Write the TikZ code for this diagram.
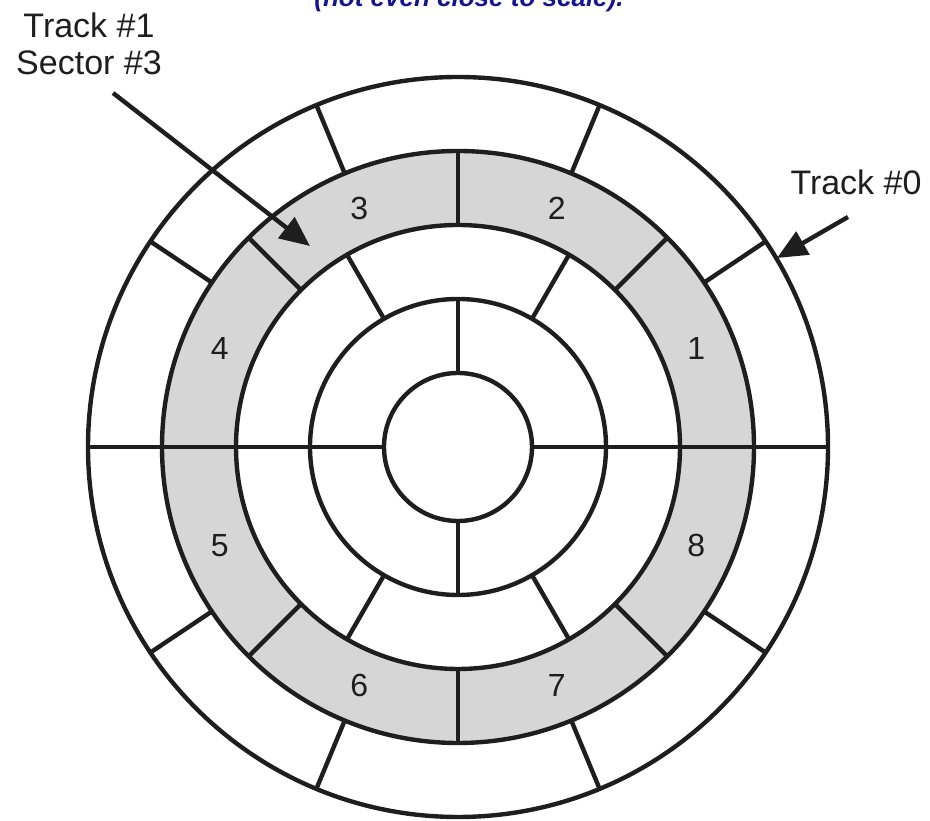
\documentclass[tikz,border=0pt]{standalone}
\usepackage{fontspec}
\setmainfont{Liberation Sans}
\usetikzlibrary{arrows.meta}
\definecolor{trackgray}{RGB}{214,214,214}
\definecolor{notecol}{RGB}{20,20,140}
\definecolor{inkcol}{RGB}{30,30,30}
\begin{document}
\begin{tikzpicture}[x=1pt,y=1pt,
  ring/.style={line width=4.4pt, inkcol},
  num/.style={inner sep=0pt, text=inkcol, font=\fontsize{32}{36}\selectfont},
  lbl/.style={inner sep=0pt, anchor=base, text=inkcol, font=\fontsize{34}{40}\selectfont},
  arr/.style={line width=4.4pt, inkcol, -{Triangle[length=30pt,width=26pt]}}]
\useasboundingbox (0,0) rectangle (930,821);
\clip (0,0) rectangle (930,821);
\coordinate (c) at (458,374);
% shaded track #1
\fill[trackgray, even odd rule] (c) circle (296) (c) circle (222);
% track circles
\foreach \r in {74,148,222,296,370} \draw[ring] (c) circle (\r);
% sector boundaries
\foreach \a in {0,180} \draw[ring] ([shift={(\a:74)}]c) -- ([shift={(\a:370)}]c);
\foreach \a in {90,270} \draw[ring] ([shift={(\a:74)}]c) -- ([shift={(\a:148)}]c);
\foreach \a in {60,120,240,300} \draw[ring] ([shift={(\a:148)}]c) -- ([shift={(\a:222)}]c);
\foreach \a in {45,90,135,225,270,315} \draw[ring] ([shift={(\a:222)}]c) -- ([shift={(\a:296)}]c);
\foreach \a in {33.75,67.5,112.5,146.25,213.75,247.5,292.5,326.25} \draw[ring] ([shift={(\a:296)}]c) -- ([shift={(\a:370)}]c);
% sector numbers on track #1
\foreach \n/\a in {1/22.5,2/67.5,3/112.5,4/157.5,5/202.5,6/247.5,7/292.5,8/337.5}
  \node[num] (s\n) at ([shift={(\a:258)}]c) {\n};
% labels
\node[lbl] (lt1) at (89,783) {Track \#1};
\node[lbl] (ls3) at (89,746) {Sector \#3};
\node[lbl] (lt0) at (856,626) {Track \#0};
\node[anchor=base, inner sep=0pt, text=notecol, font=\bfseries\itshape\fontsize{26}{30}\selectfont] (note) at (469,814) {(not even close to scale).};
% arrows
\coordinate (a1s) at (113,728);
\coordinate (a1t) at (310,575);
\coordinate (a0s) at (848,604);
\coordinate (a0t) at (777,563);
\draw[arr] (a1s) -- (a1t);
\draw[arr] (a0s) -- (a0t);
\end{tikzpicture}
\end{document}
